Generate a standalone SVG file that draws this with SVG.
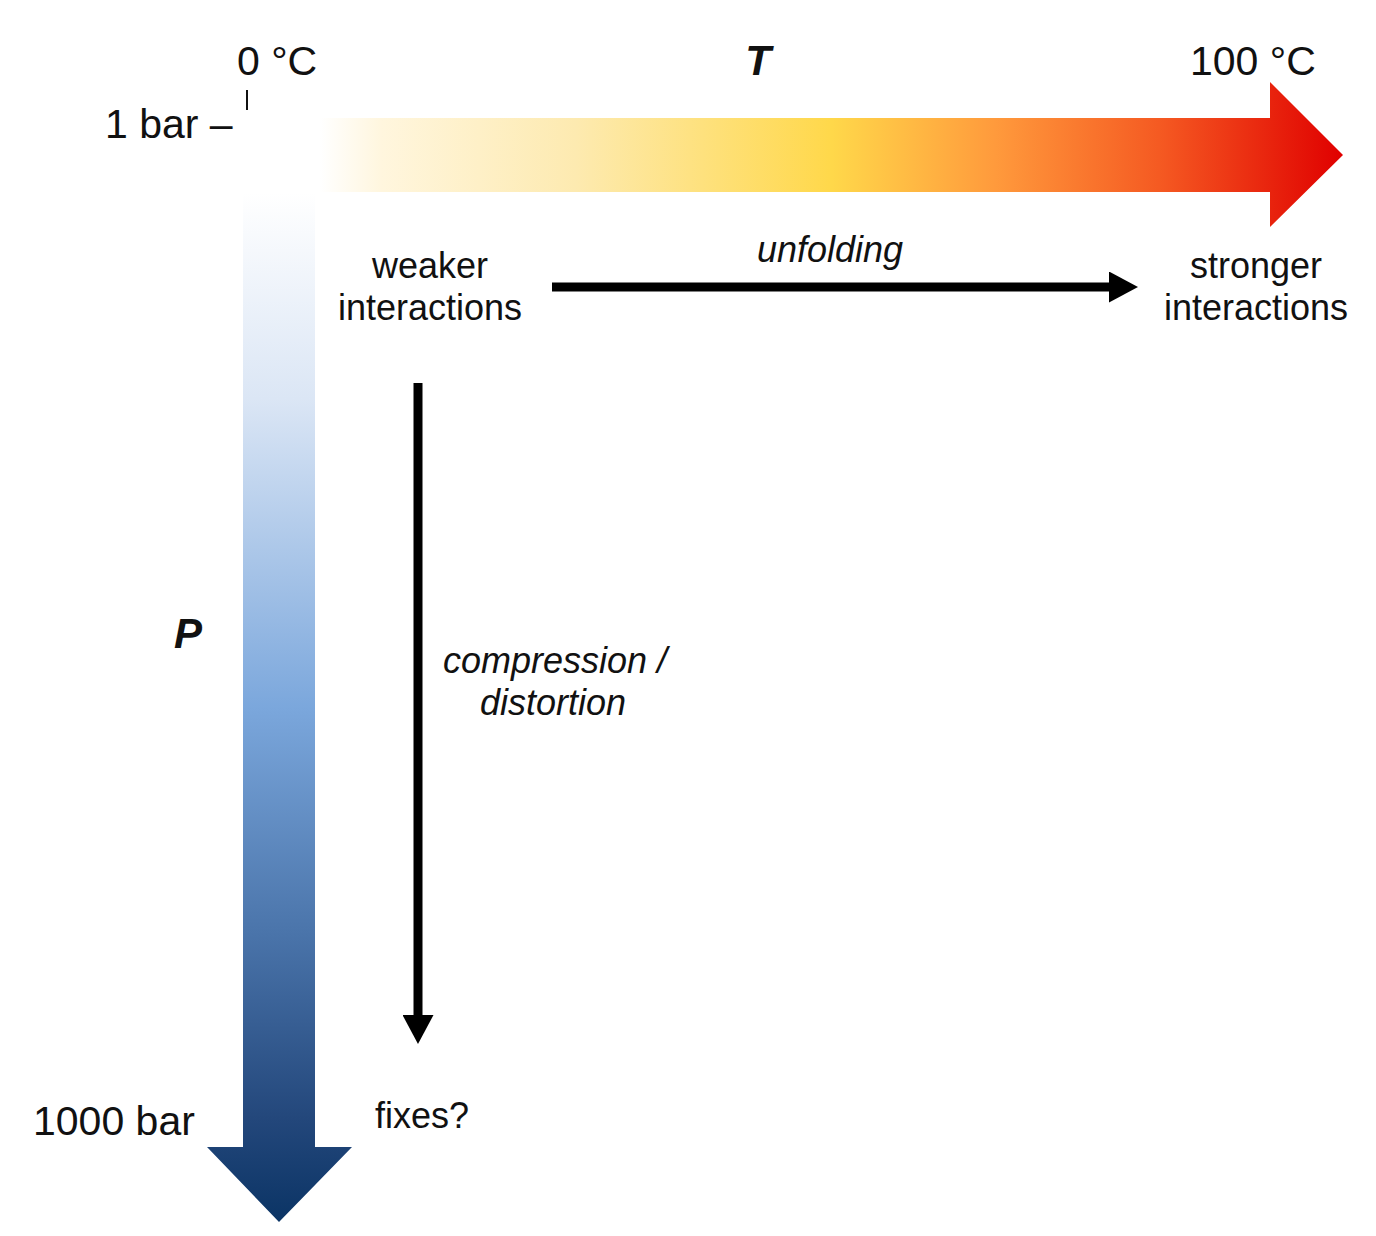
<svg xmlns="http://www.w3.org/2000/svg" width="1376" height="1236" viewBox="0 0 1376 1236">
<defs>
<linearGradient id="gT" gradientUnits="userSpaceOnUse" x1="320" y1="0" x2="1343" y2="0">
<stop offset="0" stop-color="#ffffff"/>
<stop offset="0.06" stop-color="#fff6de"/>
<stop offset="0.25" stop-color="#fdeab0"/>
<stop offset="0.5" stop-color="#ffd84a"/>
<stop offset="0.66" stop-color="#ff9a3c"/>
<stop offset="0.82" stop-color="#f55a22"/>
<stop offset="1" stop-color="#e00000"/>
</linearGradient>
<linearGradient id="gP" gradientUnits="userSpaceOnUse" x1="0" y1="193" x2="0" y2="1222">
<stop offset="0" stop-color="#ffffff"/>
<stop offset="0.2" stop-color="#dbe6f5"/>
<stop offset="0.5" stop-color="#7ba7dc"/>
<stop offset="0.72" stop-color="#4a74aa"/>
<stop offset="0.9" stop-color="#23477b"/>
<stop offset="1" stop-color="#0b3465"/>
</linearGradient>
<marker id="ah" viewBox="0 0 10 10" refX="0" refY="5" markerUnits="userSpaceOnUse" markerWidth="29" markerHeight="31" orient="auto" preserveAspectRatio="none">
<path d="M0,0 L10,5 L0,10 Z" fill="#000"/>
</marker>
<style>
.t{font-family:"Liberation Sans",Arial,sans-serif;fill:#111;}
.ax{font-size:41px;}
.lb{font-size:36px;}
.it{font-style:italic;}
.bi{font-style:italic;font-weight:bold;font-size:42px;}
.c{text-anchor:middle;}
.ln{stroke:#000;stroke-width:9;fill:none;}
</style>
</defs>
<g id="temperature-axis">
<path d="M320,118 L1270,118 L1270,82 L1343,155 L1270,227 L1270,192 L320,192 Z" fill="url(#gT)"/>
<text class="t bi c" x="758" y="75">T</text>
<text class="t ax" x="237" y="75">0 °C</text>
<text class="t ax" x="1190" y="75">100 °C</text>
</g>
<g id="pressure-axis">
<path d="M243,193 L315,193 L315,1147 L352,1147 L279,1222 L207,1147 L243,1147 Z" fill="url(#gP)"/>
<text class="t bi" x="174" y="648">P</text>
<text class="t ax" x="105" y="138">1 bar –</text>
<line x1="247" y1="90" x2="247" y2="110" stroke="#111" stroke-width="2"/>
<text class="t ax" x="33" y="1135">1000 bar</text>
</g>
<g id="weaker">
<text class="t lb c" x="430" y="278">weaker</text>
<text class="t lb c" x="430" y="320">interactions</text>
</g>
<g id="stronger">
<text class="t lb c" x="1256" y="278">stronger</text>
<text class="t lb c" x="1256" y="320">interactions</text>
</g>
<g id="fixes">
<text class="t lb" x="375" y="1128">fixes?</text>
</g>
<g id="connectors">
<line class="ln" x1="552" y1="287" x2="1109" y2="287" marker-end="url(#ah)"/>
<text class="t lb it c" x="830" y="262">unfolding</text>
<line class="ln" x1="418" y1="383" x2="418" y2="1015" marker-end="url(#ah)"/>
<text class="t lb it c" x="555" y="673">compression /</text>
<text class="t lb it c" x="553" y="715">distortion</text>
</g>
</svg>
